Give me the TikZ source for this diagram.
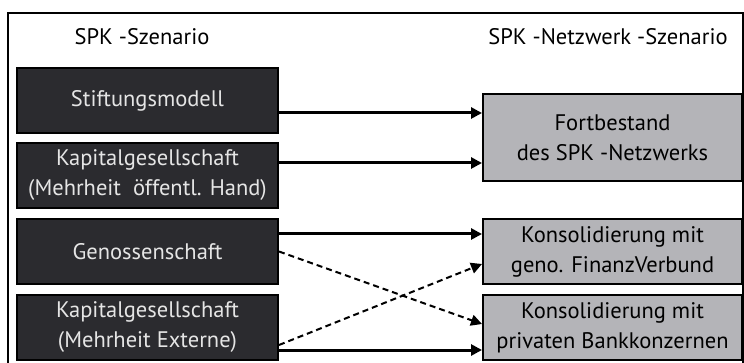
\documentclass[tikz,border=0pt]{standalone}
\usepackage{fontspec}
\setmainfont{PT Sans}
\usetikzlibrary{arrows.meta,calc}
\definecolor{boxdark}{HTML}{2B2B2F}
\definecolor{boxgray}{HTML}{B4B4B8}

\begin{document}
\begin{tikzpicture}[x=1pt,y=-1pt,>={Triangle[length=11pt,width=11pt]},
    font=\fontsize{22.5}{30}\selectfont, line join=miter,
    modell/.style={draw=black,line width=2pt,fill=boxdark,text=white!90!black,
      minimum width=261pt,minimum height=65pt,align=center,inner sep=0pt},
    ziel/.style={draw=black,line width=2pt,fill=boxgray,text=black,
      minimum width=259pt,minimum height=65pt,align=center,inner sep=0pt},
    pfeil/.style={->,line width=3pt},
    wechsel/.style={->,line width=2pt,dash pattern=on 6pt off 4pt}]
    \useasboundingbox (0,0) rectangle (744,363);
    \draw[line width=1.5pt] (8,380) -- (8,13) -- (743,13) -- (743,380);
    % Ueberschriften
    \node (kopfL) at (142,37) {SPK -Szenario};
    \node (kopfR) at (608,37) {SPK -Netzwerk -Szenario};
    % linke Seite
    \node[modell] (stift) at (147.5,100.5) {Stiftungsmodell};
    \node[modell] (kapoe) at (147.5,175.5) {Kapitalgesellschaft\\(Mehrheit~ öffentl. Hand)};
    \node[modell] (geno) at (147.5,251.5) {Genossenschaft};
    \node[modell] (kapex) at (147.5,327.5) {Kapitalgesellschaft\\(Mehrheit Externe)};
    % rechte Seite
    \node[ziel,minimum height=87pt] (fort) at (612.5,137.5) {Fortbestand\\des SPK -Netzwerks};
    \node[ziel] (verbund) at (612.5,251.5) {Konsolidierung mit\\geno. FinanzVerbund};
    \node[ziel] (privat) at (612.5,327.5) {Konsolidierung mit\\privaten Bankkonzernen};
    % Verbindungen
    \draw[pfeil] ($(stift.east)+(0,12.5)$) -- ($(fort.west)+(0,-24.5)$);
    \draw[pfeil] ($(kapoe.east)+(0,-12.5)$) -- ($(fort.west)+(0,25.5)$);
    \draw[pfeil] ($(geno.east)+(0,-17.5)$) -- ($(verbund.west)+(0,-17.5)$);
    \draw[wechsel] (geno.east) -- ($(privat.west)+(0,-3.5)$);
    \draw[wechsel] ($(kapex.east)+(0,17.5)$) -- ($(verbund.west)+(0,12.5)$);
    \draw[pfeil] ($(kapex.east)+(0,22.5)$) -- ($(privat.west)+(0,22.5)$);
\end{tikzpicture}
\end{document}
